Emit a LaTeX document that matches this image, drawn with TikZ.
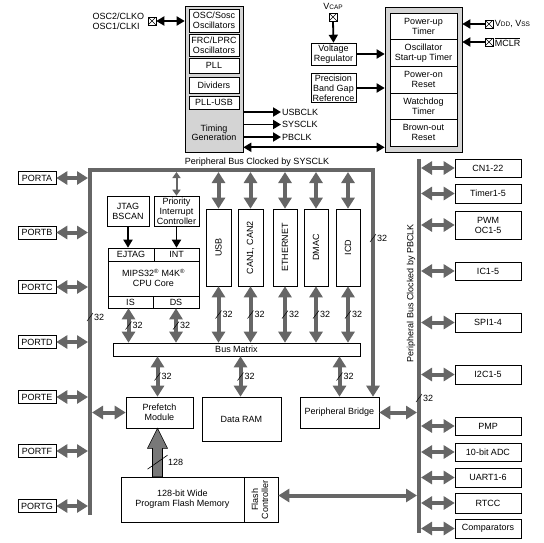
\documentclass[tikz,border=0pt]{standalone}
\usepackage{fontspec}
\setmainfont{Liberation Sans}
\usepackage{graphicx}
\usetikzlibrary{arrows.meta,calc}

\definecolor{busgray}{RGB}{102,102,102}
\definecolor{blockgray}{RGB}{212,212,212}
\definecolor{flashgray}{RGB}{120,120,120}

% bus width mark: slash and number
\newcommand{\wslash}[2]{%
  \draw[line width=0.5pt] ($(#1)+(-3,4)$) -- ($(#1)+(3,-4)$);
  \node[anchor=west,inner sep=0.5pt] at ($(#1)+(3.5,0)$) {#2};}

\tikzset{
  box/.style={draw, fill=white, line width=0.6pt, align=center, inner sep=1pt},
  pad/.style={draw, fill=white, line width=0.5pt, minimum size=8pt, inner sep=0pt,
    path picture={\draw[line width=0.4pt] (path picture bounding box.north west) -- (path picture bounding box.south east)
      (path picture bounding box.north east) -- (path picture bounding box.south west);}},
  busline/.style={draw=busgray, line width=4pt},
  busarrow/.style={draw=busgray, line width=4pt, {Triangle[width=13pt,length=11pt]}-{Triangle[width=13pt,length=11pt]}},
  thinbus/.style={draw=busgray, line width=2pt, {Triangle[width=8pt,length=6pt]}-{Triangle[width=8pt,length=6pt]}},
  sigarrow/.style={line width=1.8pt, -{Triangle[width=9pt,length=8pt]}},
  sigarrows/.style={line width=1.8pt, {Triangle[width=9pt,length=8pt]}-{Triangle[width=9pt,length=8pt]}},
}

\begin{document}
\begin{tikzpicture}[x=1pt,y=-1pt,font=\fontsize{9}{10}\selectfont]

\useasboundingbox (0,0) rectangle (544,542);

% clock block
\node[draw, fill=blockgray, line width=0.6pt, minimum width=58pt, minimum height=146pt] (clk) at (214,79) {};
\node[box, minimum width=50pt, minimum height=23pt] (osc) at (214,20.5) {OSC/Sosc\\Oscillators};
\node[box, minimum width=50pt, minimum height=22pt] (frc) at (214,45) {FRC/LPRC\\Oscillators};
\node[box, minimum width=50pt, minimum height=15pt] (pll) at (214,65.5) {PLL};
\node[box, minimum width=50pt, minimum height=16pt] (div) at (214,85) {Dividers};
\node[box, minimum width=50pt, minimum height=13pt] (pllusb) at (214,102.5) {PLL-USB};
\node[align=center, font=\fontsize{9}{9}\selectfont] (timing) at (214,133) {Timing\\Generation};

\node[pad] (oscpad) at (152,21) {};
\node[anchor=east, align=left] (osclbl) at (oscpad.west) {OSC2/CLKO\\OSC1/CLKI};
\draw[sigarrows] (oscpad.east) -- (oscpad.east -| clk.west);

\node[anchor=west, inner sep=1pt] (usbclk) at (281,112) {USBCLK};
\node[anchor=west, inner sep=1pt] (sysclk) at (281,124.5) {SYSCLK};
\node[anchor=west, inner sep=1pt] (pbclk) at (281,137) {PBCLK};
\draw[sigarrow] (usbclk.west -| clk.east) -- (usbclk.west);
\draw[sigarrow] (sysclk.west -| clk.east) -- (sysclk.west);
\draw[sigarrow] (pbclk.west -| clk.east) -- (pbclk.west);

% regulator
\node (vcap) at (333,6) {V{\fontsize{6.5}{7}\selectfont CAP}};
\node[pad] (vcappad) at (333,17) {};
\node[box, minimum width=45pt, minimum height=22pt] (vreg) at (333.5,54) {Voltage\\Regulator};
\node[box, minimum width=45pt, minimum height=28pt] (bgap) at (333.5,88) {Precision\\Band Gap\\Reference};
\draw[sigarrow] (vcappad.south) -- (vreg.north);

% reset block
\node[draw, fill=blockgray, line width=0.6pt, minimum width=77pt, minimum height=145pt] (rst) at (423.5,79.5) {};
\node[box, minimum width=67pt, minimum height=26.6pt] (pwrt) at (423.5,26.3) {Power-up\\Timer};
\node[box, minimum width=67pt, minimum height=26.6pt] (ost) at (423.5,52.9) {Oscillator\\Start-up Timer};
\node[box, minimum width=67pt, minimum height=26.6pt] (por) at (423.5,79.5) {Power-on\\Reset};
\node[box, minimum width=67pt, minimum height=26.6pt] (wdt) at (423.5,106.1) {Watchdog\\Timer};
\node[box, minimum width=67pt, minimum height=26.6pt] (bor) at (423.5,132.7) {Brown-out\\Reset};

\draw[sigarrow] (vreg.east) -- (vreg.east -| rst.west);
\draw[sigarrow] (bgap.east) -- (bgap.east -| rst.west);
\coordinate (clkrst) at ($(clk.south east)+(0,-5)$);
\draw[sigarrows] (clkrst) -- (clkrst -| rst.west);

\node[pad] (vddpad) at (489,24) {};
\node[pad] (mclrpad) at (489,42) {};
\node[anchor=west, inner sep=1.5pt] (vddlbl) at (vddpad.east) {V{\fontsize{6.5}{7}\selectfont DD}, V{\fontsize{6.5}{7}\selectfont SS}};
\node[anchor=west, inner sep=1.5pt] (mclrlbl) at (mclrpad.east) {$\overline{\hbox{MCLR}}$};
\draw[sigarrow] (vddpad.west) -- (vddpad.west -| rst.east);
\draw[sigarrow] (mclrpad.west) -- (mclrpad.west -| rst.east);

% buses
\coordinate (lbtop) at (90,170);
\coordinate (lbbot) at (90,515);
\coordinate (sbtop) at (373,170);
\coordinate (pbtop) at (419,159);
\coordinate (pbbot) at (419,533);

\node (sysbuslbl) at (257,162) {Peripheral Bus Clocked by SYSCLK};
\node[rotate=90] (pbbuslbl) at (411,293) {Peripheral Bus Clocked by PBCLK};

% ports
\node[box, minimum width=38pt, minimum height=13pt] (porta) at (37,178) {PORTA};
\node[box, minimum width=38pt, minimum height=13pt] (portb) at (37,232.5) {PORTB};
\node[box, minimum width=38pt, minimum height=13pt] (portc) at (37,287) {PORTC};
\node[box, minimum width=38pt, minimum height=13pt] (portd) at (37,342) {PORTD};
\node[box, minimum width=38pt, minimum height=13pt] (porte) at (37,397) {PORTE};
\node[box, minimum width=38pt, minimum height=13pt] (portf) at (37,451) {PORTF};
\node[box, minimum width=38pt, minimum height=13pt] (portg) at (37,506) {PORTG};

% core
\node[box, minimum width=42pt, minimum height=30pt] (jtag) at (128,211) {JTAG\\BSCAN};
\node[box, minimum width=45pt, minimum height=30pt] (pic) at (176.5,211) {Priority\\Interrupt\\Controller};
\node[box, minimum width=91pt, minimum height=60pt] (cpu) at (153.5,278) {MIPS32\textsuperscript{®} M4K\textsuperscript{®}\\CPU Core};
\node[box, minimum width=46pt, minimum height=13pt] (ejtag) at (131,254.5) {EJTAG};
\node[box, minimum width=45pt, minimum height=13pt] (int) at (176.5,254.5) {INT};
\node[box, minimum width=45pt, minimum height=12pt] (is) at (130.5,302) {IS};
\node[box, minimum width=46pt, minimum height=12pt] (ds) at (176,302) {DS};
\draw[sigarrow] (jtag.south) -- (jtag.south |- ejtag.north);
\draw[sigarrow] (pic.south) -- (pic.south |- int.north);

\node[box, minimum width=25pt, minimum height=77pt] (usb) at (218.5,247.5) {\rotatebox{90}{USB}};
\node[box, minimum width=25pt, minimum height=77pt] (can) at (250.5,247.5) {\rotatebox{90}{CAN1, CAN2}};
\node[box, minimum width=24pt, minimum height=77pt] (eth) at (285,247.5) {\rotatebox{90}{ETHERNET}};
\node[box, minimum width=24pt, minimum height=77pt] (dmac) at (316,247.5) {\rotatebox{90}{DMAC}};
\node[box, minimum width=24pt, minimum height=77pt] (icd) at (348,247.5) {\rotatebox{90}{ICD}};

\node[box, minimum width=247pt, minimum height=13pt] (bmatrix) at (236.5,349.5) {Bus Matrix};

\node[box, minimum width=67pt, minimum height=31pt] (prefetch) at (159.5,412.5) {Prefetch\\Module};
\node[box, minimum width=79pt, minimum height=44pt] (dram) at (241.5,419) {Data RAM};
\node[box, minimum width=79pt, minimum height=31pt] (pbridge) at (339.5,412.5) {Peripheral Bridge};
\node[box, minimum width=123pt, minimum height=45pt] (flash) at (182.5,499.5) {128-bit Wide\\Program Flash Memory};
\node[box, minimum width=34pt, minimum height=45pt] (fctl) at (261,499.5) {\rotatebox{90}{\begin{tabular}{@{}c@{}}Flash\\Controller\end{tabular}}};

% peripherals
\node[box, minimum width=66pt, minimum height=18pt] (cn) at (488,168) {CN1-22};
\node[box, minimum width=66pt, minimum height=19pt] (timer) at (488,193.5) {Timer1-5};
\node[box, minimum width=66pt, minimum height=28pt] (pwm) at (488,225) {PWM\\OC1-5};
\node[box, minimum width=66pt, minimum height=18pt] (ic) at (488,271) {IC1-5};
\node[box, minimum width=66pt, minimum height=19pt] (spi) at (488,322.5) {SPI1-4};
\node[box, minimum width=66pt, minimum height=19pt] (iic) at (488,374.5) {I2C1-5};
\node[box, minimum width=66pt, minimum height=18pt] (pmp) at (488,426) {PMP};
\node[box, minimum width=66pt, minimum height=18pt] (adc) at (488,452) {10-bit ADC};
\node[box, minimum width=66pt, minimum height=19pt] (uart) at (488,477.5) {UART1-6};
\node[box, minimum width=66pt, minimum height=20pt] (rtcc) at (488,503) {RTCC};
\node[box, minimum width=66pt, minimum height=19pt] (comp) at (488,528.5) {Comparators};

% bus lines
\draw[busline, -{Triangle[width=13pt,length=11pt]}] (lbbot) -- (lbtop) -- (sbtop) -- coordinate[pos=0.3] (wsys) (sbtop |- pbridge.north);
\draw[busline] (pbtop) -- (pbbot);
\coordinate (wleft) at (90,317);
\coordinate (wpb) at (419,398);
\wslash{wleft}{32}
\wslash{wsys}{32}
\wslash{wpb}{32}

\draw[busarrow, shorten >=2pt] (porta.east) -- (porta.east -| lbtop);
\draw[busarrow, shorten >=2pt] (portb.east) -- (portb.east -| lbtop);
\draw[busarrow, shorten >=2pt] (portc.east) -- (portc.east -| lbtop);
\draw[busarrow, shorten >=2pt] (portd.east) -- (portd.east -| lbtop);
\draw[busarrow, shorten >=2pt] (porte.east) -- (porte.east -| lbtop);
\draw[busarrow, shorten >=2pt] (portf.east) -- (portf.east -| lbtop);
\draw[busarrow, shorten >=2pt] (portg.east) -- (portg.east -| lbtop);

\draw[thinbus, shorten <=2pt] (pic.north |- lbtop) -- (pic.north);
\draw[busarrow, shorten <=2pt] (usb.north |- lbtop) -- (usb.north);
\draw[busarrow, shorten <=2pt] (can.north |- lbtop) -- (can.north);
\draw[busarrow, shorten <=2pt] (eth.north |- lbtop) -- (eth.north);
\draw[busarrow, shorten <=2pt] (dmac.north |- lbtop) -- (dmac.north);
\draw[busarrow, shorten <=2pt] (icd.north |- lbtop) -- (icd.north);

\draw[busarrow] ($(is.south)+(-2,0)$) -- coordinate (wis) ($(is.south |- bmatrix.north)+(-2,0)$);
\draw[busarrow] (ds.south) -- coordinate (wds) (ds.south |- bmatrix.north);
\draw[busarrow] (usb.south) -- coordinate (wusb) (usb.south |- bmatrix.north);
\draw[busarrow] (can.south) -- coordinate (wcan) (can.south |- bmatrix.north);
\draw[busarrow] (eth.south) -- coordinate (weth) (eth.south |- bmatrix.north);
\draw[busarrow] (dmac.south) -- coordinate (wdmac) (dmac.south |- bmatrix.north);
\draw[busarrow] (icd.south) -- coordinate (wicd) (icd.south |- bmatrix.north);
\wslash{wis}{32}
\wslash{wds}{32}
\wslash{wusb}{32}
\wslash{wcan}{32}
\wslash{weth}{32}
\wslash{wdmac}{32}
\wslash{wicd}{32}

\draw[busarrow] ($(prefetch.north |- bmatrix.south)+(-2,0)$) -- coordinate (wpf) ($(prefetch.north)+(-2,0)$);
\draw[busarrow] ($(dram.north |- bmatrix.south)+(-1,0)$) -- coordinate (wram) ($(dram.north)+(-1,0)$);
\draw[busarrow] (pbridge.north |- bmatrix.south) -- coordinate (wpbr) (pbridge.north);
\wslash{wpf}{32}
\wslash{wram}{32}
\wslash{wpbr}{32}

\draw[busarrow, shorten <=2pt] (prefetch.west -| lbtop) -- (prefetch.west);
\draw[busarrow, shorten >=2pt] (pbridge.east) -- (pbridge.east -| pbtop);
\draw[busarrow, shorten >=2pt] ($(fctl.east)+(0,-4)$) -- ($(fctl.east -| pbtop)+(0,-4)$);

\draw[busarrow, shorten <=2pt] (cn.west -| pbtop) -- (cn.west);
\draw[busarrow, shorten <=2pt] (timer.west -| pbtop) -- (timer.west);
\draw[busarrow, shorten <=2pt] (pwm.west -| pbtop) -- (pwm.west);
\draw[busarrow, shorten <=2pt] (ic.west -| pbtop) -- (ic.west);
\draw[busarrow, shorten <=2pt] (spi.west -| pbtop) -- (spi.west);
\draw[busarrow, shorten <=2pt] (iic.west -| pbtop) -- (iic.west);
\draw[busarrow, shorten <=2pt] (pmp.west -| pbtop) -- (pmp.west);
\draw[busarrow, shorten <=2pt] (adc.west -| pbtop) -- (adc.west);
\draw[busarrow, shorten <=2pt] (uart.west -| pbtop) -- (uart.west);
\draw[busarrow, shorten <=2pt] (rtcc.west -| pbtop) -- (rtcc.west);
\draw[busarrow, shorten <=2pt] (comp.west -| pbtop) -- (comp.west);

% flash to prefetch, 128 bit
\coordinate (ftip) at ($(prefetch.south)+(-2,0)$);
\coordinate (fbase) at (ftip |- flash.north);
\filldraw[fill=flashgray, line width=0.6pt] (ftip) -- ++(10,20) -- ++(-5,0) -- ($(fbase)+(5,0)$)
  -- ($(fbase)+(-5,0)$) -- ($(ftip)+(-5,20)$) -- ++(-5,0) -- cycle;
\coordinate (f128) at ($(ftip)!0.7!(fbase)$);
\draw[line width=0.6pt] ($(f128)+(-10,7)$) -- ($(f128)+(10,-7)$);
\node[anchor=west, inner sep=0.5pt] at ($(f128)+(10,0)$) {128};

\end{tikzpicture}
\end{document}
